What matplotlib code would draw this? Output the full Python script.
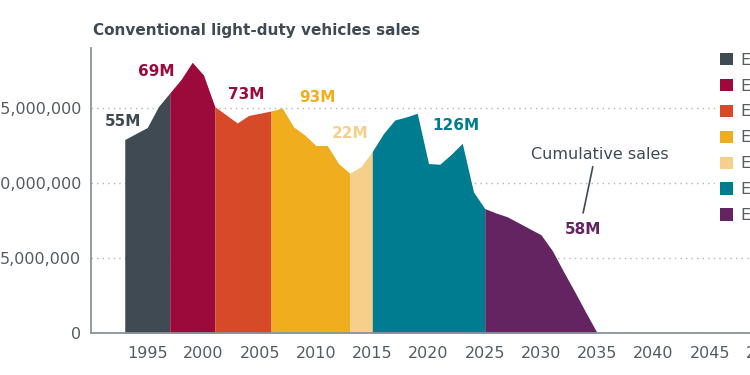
import numpy as np
import matplotlib
matplotlib.use("Agg")
import matplotlib.pyplot as plt
from matplotlib.patches import Patch
from matplotlib.ticker import FuncFormatter

# Annual sales of conventional light-duty vehicles (millions)
years = list(range(1993, 2036))
sales_m = [12.9, 13.3, 13.7, 15.1, 16.0, 16.9, 18.05, 17.2, 15.1, 14.55,
           14.0, 14.5, 14.65, 14.8, 15.0, 13.75, 13.2, 12.5, 12.5, 11.3,
           10.65, 11.1, 12.1, 13.3, 14.2, 14.4, 14.65, 11.3, 11.25, 11.9,
           12.65, 9.4, 8.3, 8.0, 7.75, 7.35, 6.95, 6.55, 5.5, 4.1,
           2.75, 1.35, 0.0]

# Emission standard stages
stages = ["Euro 1", "Euro 2", "Euro 3", "Euro 4", "Euro 5", "Euro 6", "Euro 7"]
stage_start = [1993, 1997, 2001, 2006, 2013, 2015, 2025]
stage_end = [1997, 2001, 2006, 2013, 2015, 2025, 2035]
stage_totals = ["55M", "69M", "73M", "93M", "22M", "126M", "58M"]
colors = ["#3f4a53", "#9b0a3a", "#d64a27", "#f0ad1e", "#f6d08b", "#007c91", "#642461"]

yrs = np.array(years)
sales = np.array(sales_m) * 1e6

fig = plt.figure(figsize=(7.5, 3.75), dpi=100)
ax = fig.add_axes([91 / 750, 42 / 375, 62 * 11.25 / 750, 285 / 375])

for i, name in enumerate(stages):
    m = (yrs >= stage_start[i]) & (yrs <= stage_end[i])
    ax.fill_between(yrs[m], 0, sales[m], color=colors[i], lw=0, zorder=2)

ax.set_xlim(1990, 2052)
ax.set_ylim(0, 19e6)
ax.set_xticks(range(1995, 2051, 5))
ax.set_yticks([0, 5e6, 10e6, 15e6])
ax.yaxis.set_major_formatter(FuncFormatter(lambda v, p: f"{int(v):,}"))
ax.tick_params(length=0, labelsize=11.5, colors="#555b61")
ax.tick_params(axis="x", pad=9)
ax.tick_params(axis="y", pad=7)
ax.grid(axis="y", linestyle=(0, (1, 3)), color="#b5b5b5", lw=1, zorder=0)
for s in ["top", "right"]:
    ax.spines[s].set_visible(False)
for s in ["left", "bottom"]:
    ax.spines[s].set_color("#8a9299")
    ax.spines[s].set_linewidth(1.3)
    ax.spines[s].set_zorder(3)

# stage totals
lab_pos = [(1992.8, 14.13e6), (1995.8, 17.4e6), (2003.8, 15.87e6), (2010.1, 15.67e6),
           (2013.0, 13.33e6), (2022.4, 13.8e6), (2033.75, 6.87e6)]
lab_col = [colors[0], colors[1], colors[1], colors[3], colors[4], colors[5], colors[6]]
for (x, y), t, c in zip(lab_pos, stage_totals, lab_col):
    ax.text(x, y, t, color=c, fontsize=11, fontweight="bold", ha="center", va="center")

ax.text(2035.2, 11.87e6, "Cumulative sales", color="#3f4a53", fontsize=11.5,
        ha="center", va="center")
ax.plot([2034.6, 2033.75], [11.07e6, 8.02e6], color="#3f4a53", lw=1.2)

fig.text(93 / 750, 1 - 30 / 375, "Conventional light-duty vehicles sales",
         fontsize=11, fontweight="bold", color="#3f4a53", va="center")

handles = [Patch(facecolor=c, edgecolor="none") for c in colors]
leg = fig.legend(handles, stages, loc="upper left", bbox_to_anchor=(707 / 750, 1 - 40 / 375),
                 frameon=True, facecolor="white", edgecolor="none", framealpha=1,
                 fontsize=11.5, handlelength=0.8, handleheight=0.8, handletextpad=0.5,
                 labelspacing=0.68, borderpad=0.3, labelcolor="#555b61")
leg.set_zorder(5)

fig.savefig("out.png", dpi=100)
